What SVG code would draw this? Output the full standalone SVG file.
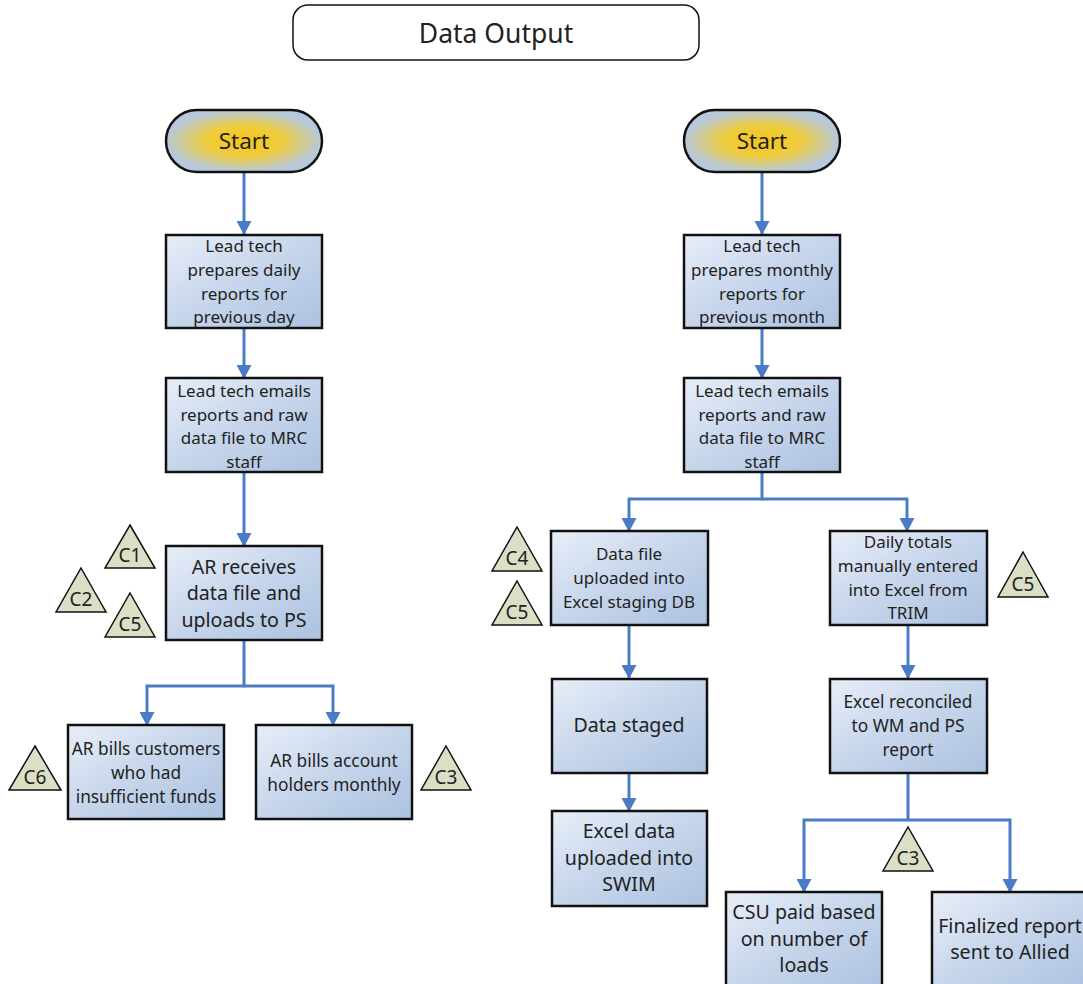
<svg xmlns="http://www.w3.org/2000/svg" width="1083" height="984" viewBox="0 0 1083 984">
<defs>
<linearGradient id="boxg" x1="0" y1="0" x2="1" y2="1">
<stop offset="0" stop-color="#e8eef8"/>
<stop offset="0.5" stop-color="#c6d5eb"/>
<stop offset="1" stop-color="#acc2e0"/>
</linearGradient>
<radialGradient id="startg" cx="0.5" cy="0.5" r="0.5">
<stop offset="0" stop-color="#f6c51a"/>
<stop offset="0.5" stop-color="#eecd40"/>
<stop offset="1" stop-color="#b7c8da"/>
</radialGradient>
<marker id="arr" viewBox="0 0 14 15" refX="13" refY="7.5" markerWidth="14" markerHeight="15" markerUnits="userSpaceOnUse" orient="auto">
<path d="M0,0 L14,7.5 L0,15 z" fill="#4a7cc6"/>
</marker>
</defs>
<style>
.box{fill:url(#boxg);stroke:#111;stroke-width:2.5}
.start{fill:url(#startg);stroke:#111;stroke-width:2.5}
.tri{fill:#dcdfc6;stroke:#111;stroke-width:1.5}
.conn{fill:none;stroke:#4a7cc6;stroke-width:3}
text{font-family:"Noto Sans","Open Sans","Liberation Sans",sans-serif;fill:#222;text-anchor:middle}
.t16{font-size:17px}
.t17{font-size:17.3px}
.t19{font-size:19.6px}
.tl{font-size:19px}
</style>

<g id="title">
<rect x="293" y="5" width="406" height="55" rx="15" ry="15" fill="#fff" stroke="#111" stroke-width="1.5"/>
<text x="496" y="43" style="font-size:26.5px">Data Output</text>
</g>

<g id="connectors">
<path class="conn" d="M244,173 V234" marker-end="url(#arr)"/>
<path class="conn" d="M244,328 V378" marker-end="url(#arr)"/>
<path class="conn" d="M244,472 V546" marker-end="url(#arr)"/>
<path class="conn" d="M244,640 V686 H147 V725" marker-end="url(#arr)"/>
<path class="conn" d="M244,686 H333 V725" marker-end="url(#arr)"/>
<path class="conn" d="M762,173 V234" marker-end="url(#arr)"/>
<path class="conn" d="M762,328 V378" marker-end="url(#arr)"/>
<path class="conn" d="M762,472 V499 H629 V531" marker-end="url(#arr)"/>
<path class="conn" d="M762,499 H907 V531" marker-end="url(#arr)"/>
<path class="conn" d="M629,625 V678" marker-end="url(#arr)"/>
<path class="conn" d="M629,773 V811" marker-end="url(#arr)"/>
<path class="conn" d="M908,625 V678" marker-end="url(#arr)"/>
<path class="conn" d="M908,773 V820 H804 V892" marker-end="url(#arr)"/>
<path class="conn" d="M908,820 H1010 V892" marker-end="url(#arr)"/>
</g>

<g id="start-left">
<rect class="start" x="166" y="110" width="156" height="62" rx="31" ry="31"/>
<text x="244" y="149" style="font-size:22.5px">Start</text>
</g>
<g id="start-right">
<rect class="start" x="684" y="110" width="156" height="62" rx="31" ry="31"/>
<text x="762" y="149" style="font-size:22.5px">Start</text>
</g>

<g id="lead-daily">
<rect class="box" x="166" y="235" width="156" height="93"/>
<text class="t16" x="244" y="252">Lead tech</text>
<text class="t16" x="244" y="276">prepares daily</text>
<text class="t16" x="244" y="300">reports for</text>
<text class="t16" x="244" y="323">previous day</text>
</g>
<g id="emails-left">
<rect class="box" x="166" y="378" width="156" height="94"/>
<text class="t16" x="244" y="397">Lead tech emails</text>
<text class="t16" x="244" y="421">reports and raw</text>
<text class="t16" x="244" y="444">data file to MRC</text>
<text class="t16" x="244" y="468">staff</text>
</g>
<g id="ar-receives">
<rect class="box" x="166" y="546" width="156" height="94"/>
<text class="t19" x="244" y="574">AR receives</text>
<text class="t19" x="244" y="600">data file and</text>
<text class="t19" x="244" y="627">uploads to PS</text>
</g>
<g id="ar-bills-customers">
<rect class="box" x="68" y="725" width="156" height="94"/>
<text class="t17" x="146" y="755">AR bills customers</text>
<text class="t17" x="146" y="779">who had</text>
<text class="t17" x="146" y="803">insufficient funds</text>
</g>
<g id="ar-bills-holders">
<rect class="box" x="256" y="725" width="156" height="94"/>
<text class="t17" x="334" y="767">AR bills account</text>
<text class="t17" x="334" y="791">holders monthly</text>
</g>

<g id="lead-monthly">
<rect class="box" x="684" y="235" width="156" height="93"/>
<text class="t16" x="762" y="252">Lead tech</text>
<text class="t16" x="762" y="276">prepares monthly</text>
<text class="t16" x="762" y="300">reports for</text>
<text class="t16" x="762" y="323">previous month</text>
</g>
<g id="emails-right">
<rect class="box" x="684" y="378" width="156" height="94"/>
<text class="t16" x="762" y="397">Lead tech emails</text>
<text class="t16" x="762" y="421">reports and raw</text>
<text class="t16" x="762" y="444">data file to MRC</text>
<text class="t16" x="762" y="468">staff</text>
</g>
<g id="data-file">
<rect class="box" x="551" y="531" width="157" height="94"/>
<text class="t16" x="629" y="560">Data file</text>
<text class="t16" x="629" y="584">uploaded into</text>
<text class="t16" x="629" y="608">Excel staging DB</text>
</g>
<g id="daily-totals">
<rect class="box" x="830" y="531" width="157" height="94"/>
<text class="t16" x="908" y="548">Daily totals</text>
<text class="t16" x="908" y="572">manually entered</text>
<text class="t16" x="908" y="596">into Excel from</text>
<text class="t16" x="908" y="619">TRIM</text>
</g>
<g id="data-staged">
<rect class="box" x="552" y="679" width="155" height="94"/>
<text class="t19" x="629" y="732">Data staged</text>
</g>
<g id="excel-data">
<rect class="box" x="552" y="811" width="155" height="95"/>
<text class="t19" x="629" y="838">Excel data</text>
<text class="t19" x="629" y="865">uploaded into</text>
<text class="t19" x="629" y="891">SWIM</text>
</g>
<g id="excel-reconciled">
<rect class="box" x="830" y="679" width="157" height="94"/>
<text class="t17" x="908" y="708">Excel reconciled</text>
<text class="t17" x="908" y="732">to WM and PS</text>
<text class="t17" x="908" y="756">report</text>
</g>
<g id="csu-paid">
<rect class="box" x="726" y="892" width="156" height="100"/>
<text class="t19" x="804" y="919">CSU paid based</text>
<text class="t19" x="804" y="946">on number of</text>
<text class="t19" x="804" y="972">loads</text>
</g>
<g id="finalized">
<rect class="box" x="932" y="892" width="156" height="100"/>
<text class="t19" x="1010" y="933">Finalized report</text>
<text class="t19" x="1010" y="959">sent to Allied</text>
</g>

<g id="c1"><polygon class="tri" points="130,525 155,568 105,568"/><text class="tl" x="130" y="562">C1</text></g>
<g id="c2"><polygon class="tri" points="81,568 106,612 56,612"/><text class="tl" x="81" y="606">C2</text></g>
<g id="c5a"><polygon class="tri" points="130,593 155,637 105,637"/><text class="tl" x="130" y="631">C5</text></g>
<g id="c6"><polygon class="tri" points="35,746 61,790 9,790"/><text class="tl" x="35" y="784">C6</text></g>
<g id="c3a"><polygon class="tri" points="446,746 471,790 421,790"/><text class="tl" x="446" y="784">C3</text></g>
<g id="c4"><polygon class="tri" points="517,527 542,571 492,571"/><text class="tl" x="517" y="565">C4</text></g>
<g id="c5b"><polygon class="tri" points="517,581 542,625 492,625"/><text class="tl" x="517" y="619">C5</text></g>
<g id="c5c"><polygon class="tri" points="1023,552 1048,597 998,597"/><text class="tl" x="1023" y="591">C5</text></g>
<g id="c3b"><polygon class="tri" points="908,827 933,871 883,871"/><text class="tl" x="908" y="865">C3</text></g>
</svg>
